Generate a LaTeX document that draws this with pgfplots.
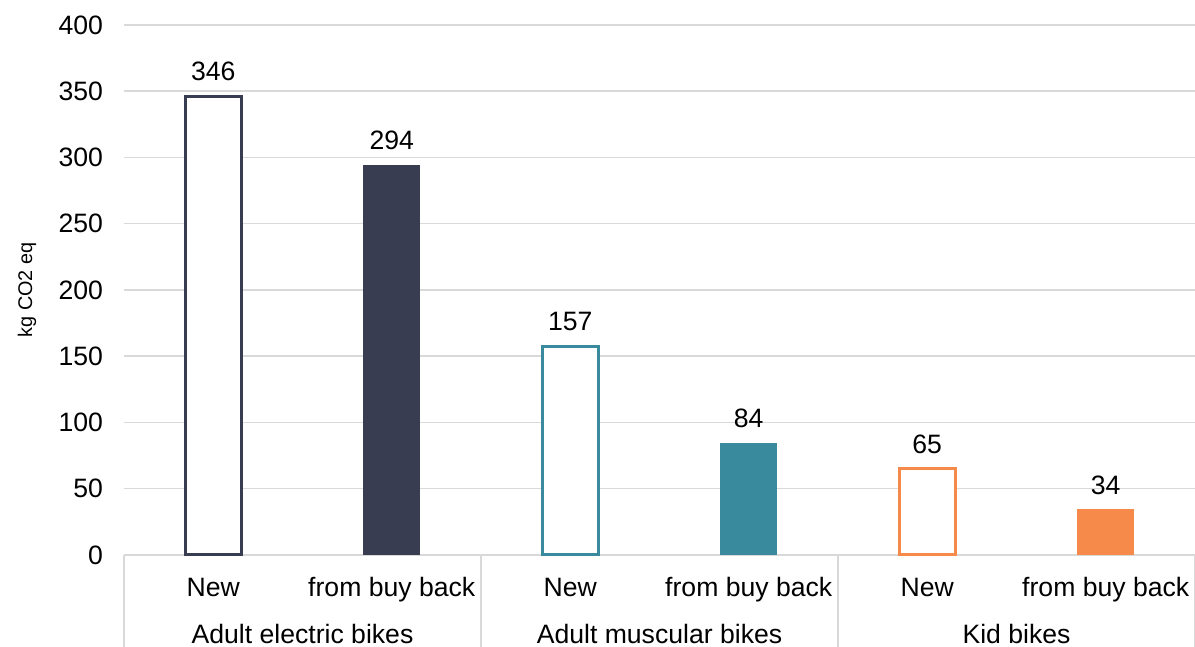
\documentclass[border=0pt]{standalone}
\usepackage{pgfplots}
\pgfplotsset{compat=1.18}
\usepackage{fontspec}
\setmainfont{Liberation Sans}
\definecolor{navy}{HTML}{393D52}
\definecolor{teal}{HTML}{3A8A9E}
\definecolor{orng}{HTML}{F58A4B}
\definecolor{gridc}{HTML}{D9D9D9}
\begin{document}
\begin{tikzpicture}
\begin{axis}[
  scale only axis,
  at={(62pt,46pt)}, anchor=south west,
  width=535.5pt, height=265pt,
  xmin=-0.5, xmax=5.5, ymin=0, ymax=400,
  ytick={0,50,...,400},
  xtick={0,...,5},
  xticklabels={New,from buy back,New,from buy back,New,from buy back},
  major tick length=0pt,
  axis line style={draw=none},
  ymajorgrids, grid style={gridc, line width=0.75pt},
  tick label style={font=\fontsize{13.3}{16}\selectfont},
  /pgf/number format/assume math mode=true,
  yticklabel style={xshift=-7pt},
  xticklabel style={anchor=base, yshift=-21pt},
  ylabel={kg CO2 eq},
  ylabel style={font=\fontsize{9.9}{12}\selectfont, at={(axis description cs:0,0.5)}, anchor=center, yshift=48.5pt},
  ybar, bar width=28pt, bar shift=0pt,
  nodes near coords,
  every node near coord/.append style={font=\fontsize{13.3}{16}\selectfont, anchor=center, yshift=12.5pt, text=black},
  clip=false,
]
\addplot[draw=navy, fill=white, line width=1.5pt] coordinates {(0,346)};
\addplot[draw=navy, fill=navy, line width=0pt] coordinates {(1,294)};
\addplot[draw=teal, fill=white, line width=1.5pt] coordinates {(2,157)};
\addplot[draw=teal, fill=teal, line width=0pt] coordinates {(3,84)};
\addplot[draw=orng, fill=white, line width=1.5pt] coordinates {(4,65)};
\addplot[draw=orng, fill=orng, line width=0pt] coordinates {(5,34)};
\foreach \xx in {-0.5,1.5,3.5,5.5}{
  \edef\tmp{\noexpand\draw[gridc, line width=0.75pt] (axis cs:\xx,0) -- ([yshift=-46pt]axis cs:\xx,0);}
  \tmp
}
\node[font=\fontsize{13.3}{16}\selectfont, anchor=base] at ([yshift=-44.5pt]axis cs:0.5,0) {Adult electric bikes};
\node[font=\fontsize{13.3}{16}\selectfont, anchor=base] at ([yshift=-44.5pt]axis cs:2.5,0) {Adult muscular bikes};
\node[font=\fontsize{13.3}{16}\selectfont, anchor=base] at ([yshift=-44.5pt]axis cs:4.5,0) {Kid bikes};
\end{axis}
\pgfresetboundingbox
\path (0,0) rectangle (597.5pt,323.5pt);
\end{tikzpicture}
\end{document}
